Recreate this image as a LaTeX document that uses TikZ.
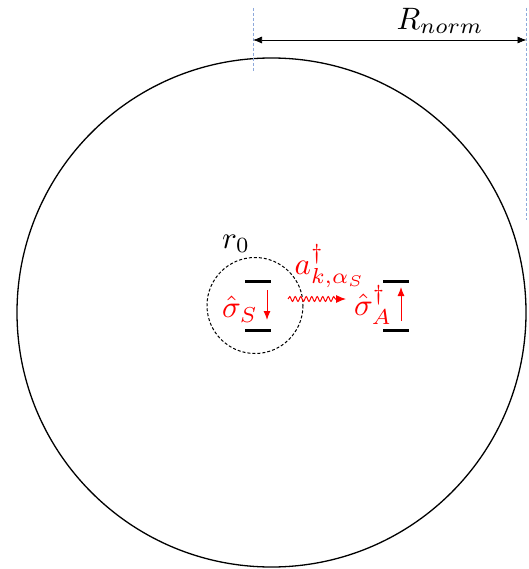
\documentclass[tikz,border=0pt]{standalone}
\usepackage{amsmath,amssymb,xcolor}
\usetikzlibrary{arrows.meta,positioning,decorations.pathmorphing}
\definecolor{Ec}{HTML}{FF0000}
\definecolor{Gc}{HTML}{8EA9DB}
\newcommand{\biglab}[1]{\scalebox{3.1}{$#1$}}
\tikzset{
  lvl/.style={line width=3pt},
  guide/.style={Gc, densely dashed, line width=0.8pt},
  dim/.style={{Latex[length=9pt,width=7pt]}-{Latex[length=9pt,width=7pt]}, line width=0.7pt},
  jump/.style={Ec, -{Latex[length=9pt,width=7pt]}, line width=1pt},
  photon/.style={Ec, -{Latex[length=10pt,width=8pt]}, line width=1pt, decorate,
    decoration={snake, amplitude=2.4pt, segment length=5.5pt, post length=9pt}},
  lab/.style={inner sep=0pt},
}
\begin{document}
\begin{tikzpicture}[x=1pt, y=-1pt]
  \useasboundingbox (0,0) rectangle (528,569);
  % normalisation sphere
  \draw[line width=1.3pt] (271.5,312.5) circle (254.5);
  \coordinate (rl) at (253,40);
  \coordinate (rr) at (526.5,40);
  \draw[guide] (253,8) -- (253,72);
  \draw[guide] (526.5,8) -- (526.5,220);
  \draw[dim] (rl) -- (rr);
  \node[lab] (rnorm) at (440,21) {\biglab{R_{norm}}};
  % source atom
  \draw[densely dashed, line width=1pt] (255,305.5) circle (48);
  \node[lab] (rzero) at (236,244) {\biglab{r_0}};
  \draw[lvl] (245,281) -- (271,281);
  \draw[lvl] (245,330) -- (271,330);
  \coordinate (sup) at (267,290);
  \coordinate (sdn) at (267,320);
  \draw[jump] (sup) -- (sdn);
  \node[lab, Ec] (sigS) at (240,309) {\biglab{\hat{\sigma}_S}};
  % emitted photon
  \coordinate (pa) at (288,299);
  \coordinate (pb) at (346,299);
  \draw[photon] (pa) -- (pb);
  \node[lab, Ec] (aks) at (330,266) {\biglab{a^{\dagger}_{k,\alpha_S}}};
  % absorbing atom
  \draw[lvl] (383,281) -- (409,281);
  \draw[lvl] (383,330) -- (409,330);
  \coordinate (adn) at (401,321);
  \coordinate (aup) at (401,287);
  \draw[jump] (adn) -- (aup);
  \node[lab, Ec] (sigA) at (373,305) {\biglab{\hat{\sigma}^{\dagger}_A}};
\end{tikzpicture}
\end{document}
